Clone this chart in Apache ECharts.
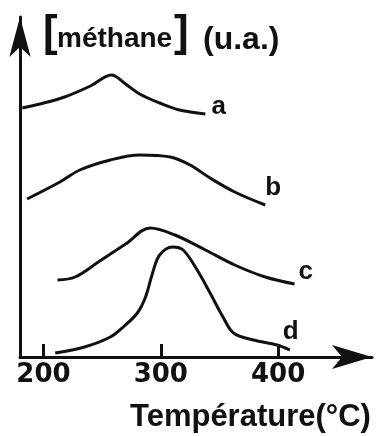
<!DOCTYPE html>
<html>
<head>
<meta charset="utf-8">
<script src="https://cdn.jsdelivr.net/npm/echarts@6/dist/echarts.min.js"></script>
<style>
  html, body { margin: 0; padding: 0; background: #fff; }
  #chart { width: 380px; height: 436px; }
</style>
</head>
<body>
<div id="chart"></div>
<script>
// température (°C) / [méthane] (u.a.), curves are offset vertically
var xTicks = [200, 300, 400];
var curveA = [[182, 24.9], [197, 25.3], [218, 26.0], [240, 27.1], [258, 28.2], [270, 27.3], [282, 26.3], [299, 25.4], [316, 24.7], [338, 24.3]];
var curveB = [[186, 15.8], [214, 17.5], [231, 18.7], [257, 19.7], [282, 20.2], [308, 20.0], [325, 19.2], [342, 17.9], [363, 16.5], [389, 15.2]];
var curveC = [[212, 7.7], [227, 8.0], [248, 9.6], [270, 11.3], [291, 12.9], [312, 12.2], [338, 10.7], [363, 9.2], [389, 8.0], [414, 7.3]];
var curveD = [[210, 0.4], [235, 1.0], [257, 2.0], [268, 3.0], [280, 4.4], [287, 6.0], [293, 8.4], [299, 10.2], [310, 11.0], [319, 10.7], [331, 8.7], [342, 6.4], [353, 4.0], [362, 2.4], [379, 1.7], [399, 1.2], [410, 0.7]];
var curveNames = ['a', 'b', 'c', 'd'];

var chart = echarts.init(document.getElementById('chart'));
var font = 'Liberation Sans';
var ink = '#111';

function curve(name, data, offset) {
    return {
        name: name,
        type: 'line',
        data: data,
        smooth: 0.35,
        symbol: 'none',
        lineStyle: { color: ink, width: 3 },
        endLabel: {
            show: true,
            formatter: '{a}',
            offset: offset,
            color: ink,
            fontFamily: font,
            fontWeight: 'bold',
            fontSize: 26
        }
    };
}

function word(text, x, y, size) {
    return {
        type: 'text',
        x: x,
        y: y,
        style: {
            text: text,
            fill: ink,
            font: 'bold ' + size + 'px "' + font + '"',
            textVerticalAlign: 'top'
        }
    };
}

var option = {
    backgroundColor: '#fff',
    animation: false,
    graphic: [
        word('[', 43, 12, 44),
        word('méthane', 57, 25, 28),
        word(']', 174, 12, 44),
        word('(u.a.)', 203, 24, 32),
        word('Température(°C)', 130, 402, 31)
    ],
    grid: { left: 20, right: 8, top: 17, bottom: 79 },
    xAxis: {
        type: 'value',
        min: 180,
        max: 480,
        splitLine: { show: false },
        axisLine: {
            lineStyle: { color: ink, width: 3 },
            symbol: ['none', 'arrow'],
            symbolSize: [18, 40]
        },
        axisTick: {
            inside: true,
            length: 13,
            customValues: xTicks,
            lineStyle: { color: ink, width: 3 }
        },
        axisLabel: {
            customValues: xTicks,
            margin: 5,
            color: ink,
            fontFamily: 'DejaVu Sans',
            fontWeight: 'bold',
            fontSize: 26
        }
    },
    yAxis: {
        type: 'value',
        min: 0,
        max: 34,
        splitLine: { show: false },
        axisTick: { show: false },
        axisLabel: { show: false },
        axisLine: {
            show: true,
            lineStyle: { color: ink, width: 3 },
            symbol: ['none', 'arrow'],
            symbolSize: [16, 40]
        }
    },
    series: [
        curve(curveNames[0], curveA, [-2, -7]),
        curve(curveNames[1], curveB, [-8, -17]),
        curve(curveNames[2], curveC, [-4, -12]),
        curve(curveNames[3], curveD, [-15, -18])
    ]
};

chart.setOption(option);
</script>
</body>
</html>
